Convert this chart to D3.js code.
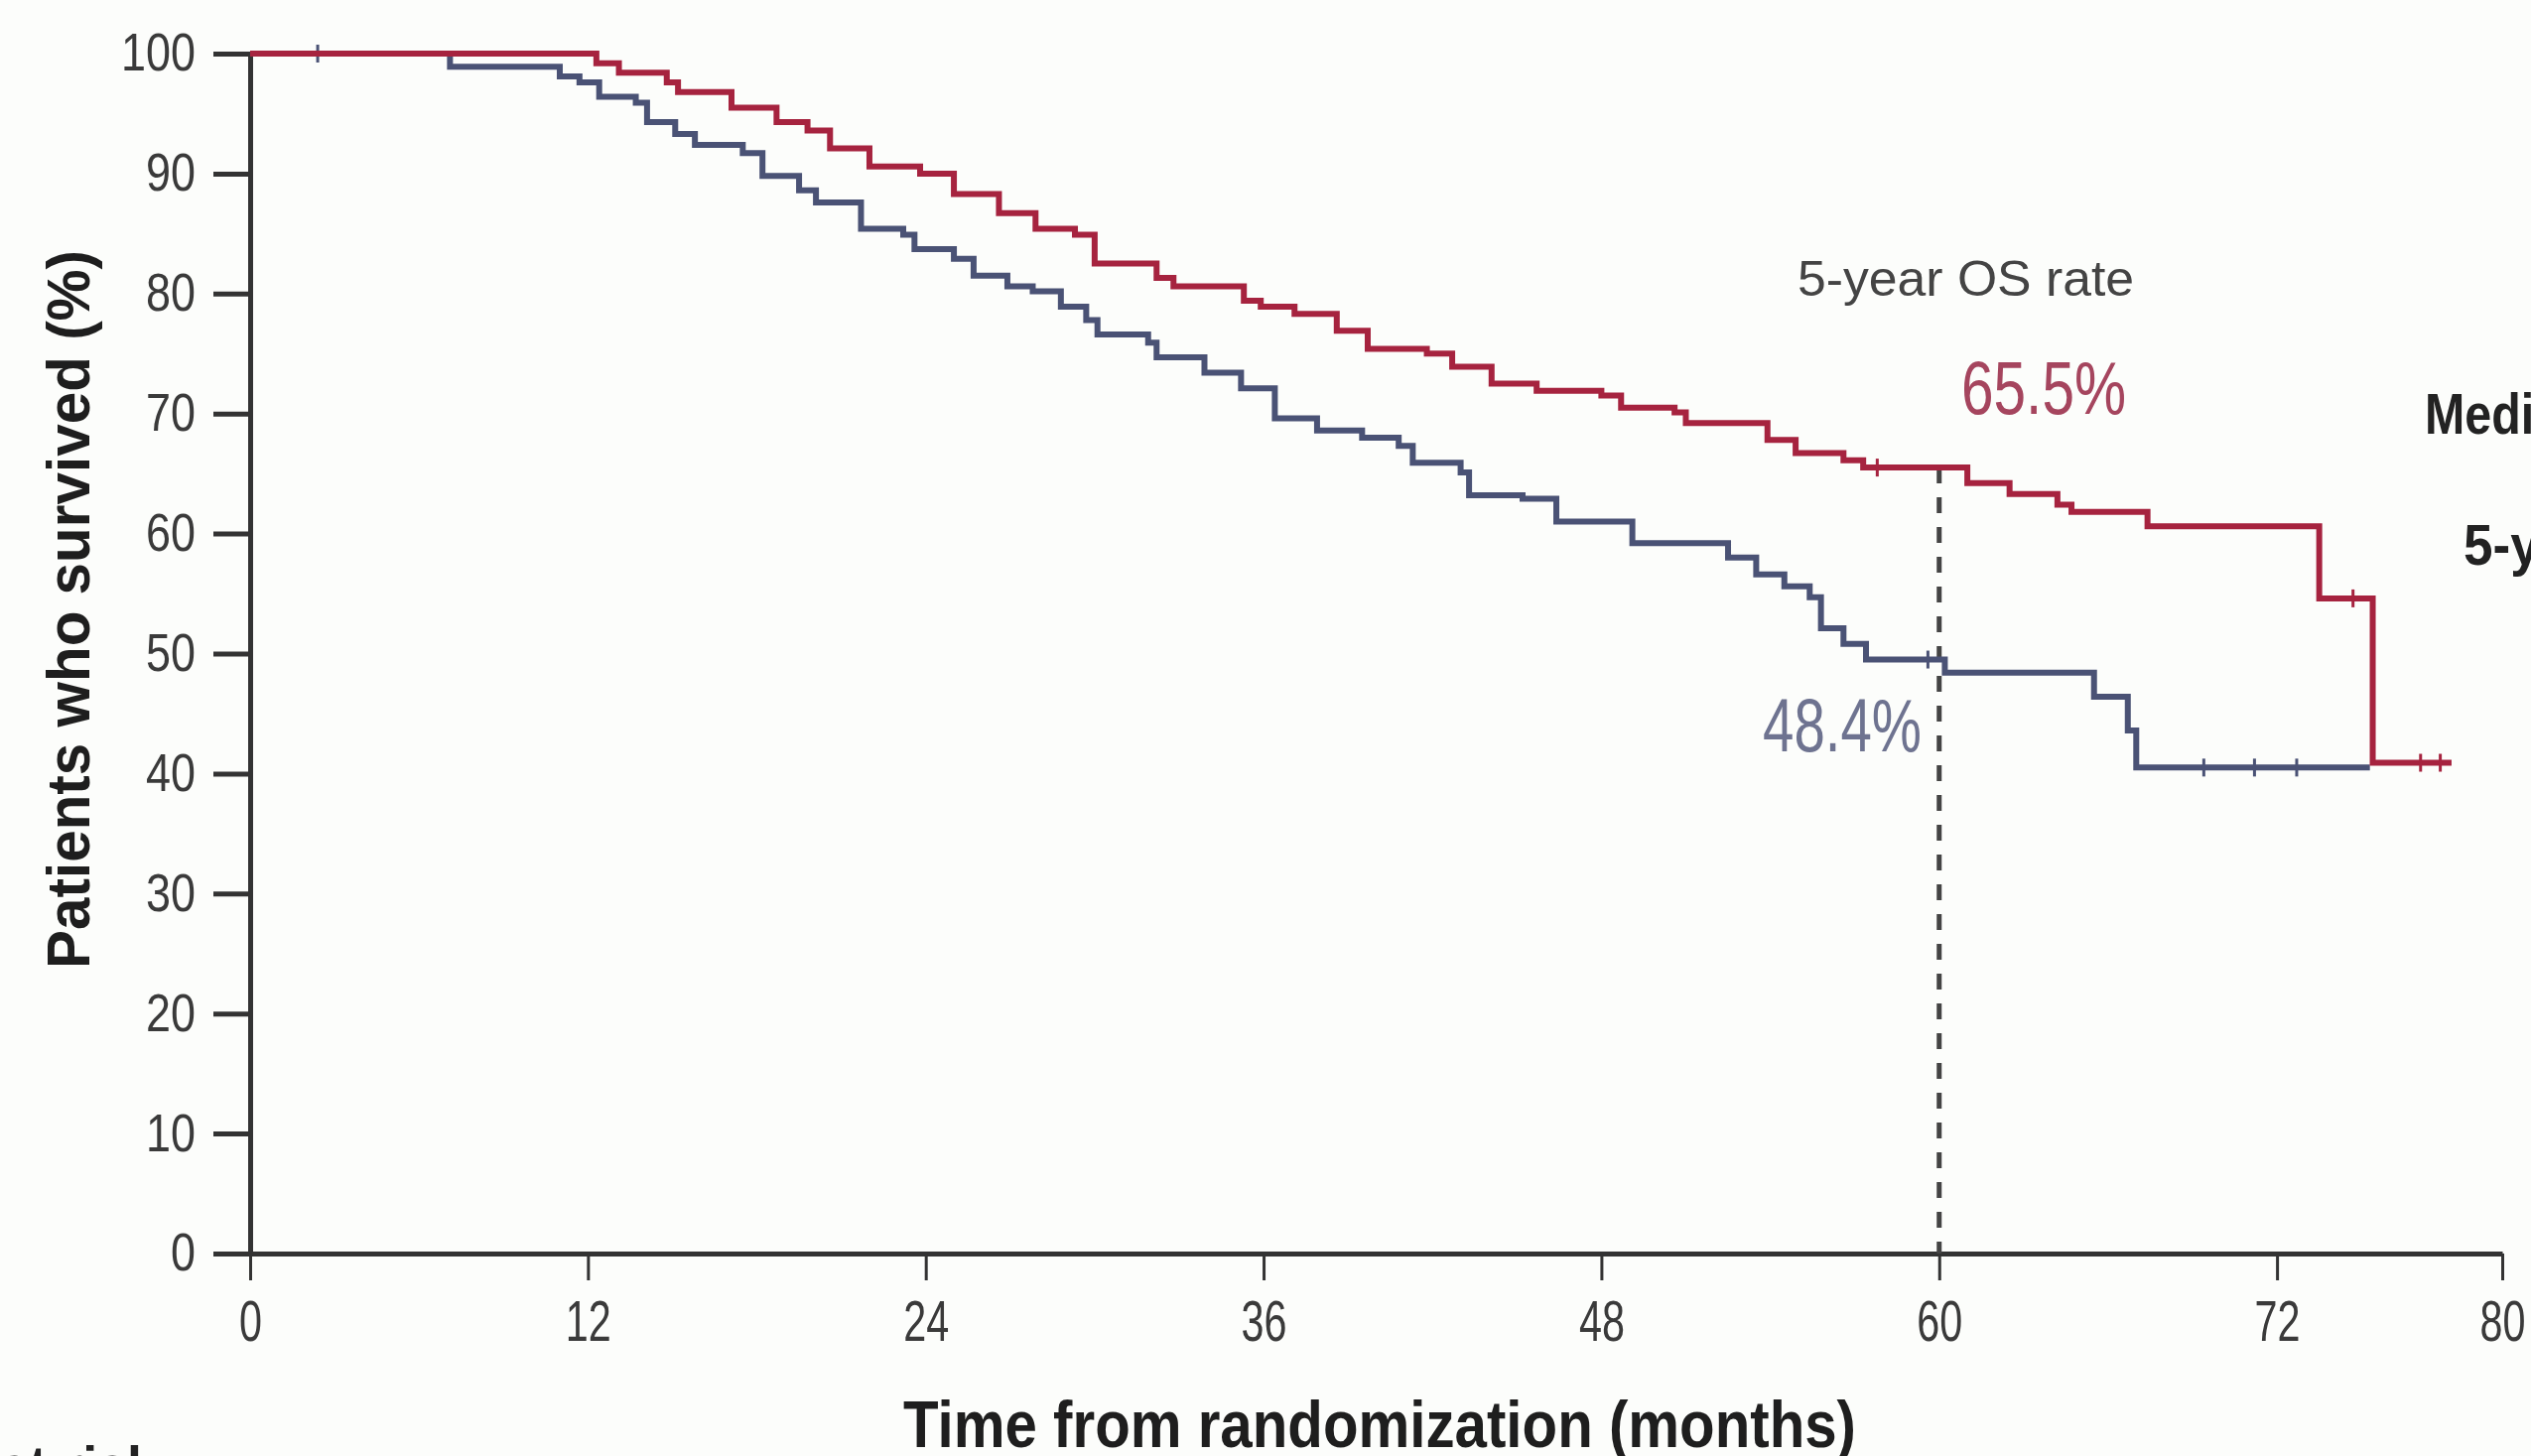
<!DOCTYPE html>
<html>
<head>
<meta charset="utf-8">
<script src="https://cdn.jsdelivr.net/npm/d3@7"></script>
<style>
  html, body { margin: 0; padding: 0; background: #fcfdfb; overflow: hidden; }
  svg { display: block; font-family: "Liberation Sans Narrow", "Arial Narrow", "Liberation Sans", Arial, sans-serif; }
</style>
</head>
<body>
<div id="chart"></div>
<script>
// Kaplan-Meier steps: month the step starts, % surviving from then on
const redTimes = [0, 12.3, 13.1, 14.8, 15.2, 17.1, 18.7, 19.8, 20.6, 22.0, 23.8, 25.0, 26.6, 27.9, 29.3, 30.0,
    32.2, 32.8, 35.3, 35.9, 37.1, 38.6, 39.7, 41.8, 42.7, 44.1, 45.7, 48.0, 48.7, 50.6, 51.0, 53.9, 54.9,
    56.6, 57.3, 61.0, 62.5, 64.2, 64.7, 67.4, 73.5, 75.4, 78.2];
const redValues = [100, 99.2, 98.4, 97.6, 96.8, 95.5, 94.3, 93.6, 92.1, 90.6, 90.0, 88.3, 86.7, 85.4, 84.9, 82.5,
    81.3, 80.6, 79.4, 78.9, 78.3, 76.9, 75.4, 75.0, 73.9, 72.5, 71.9, 71.5, 70.5, 70.1, 69.2, 67.8, 66.7,
    66.1, 65.5, 64.2, 63.3, 62.4, 61.8, 60.6, 54.6, 40.9, 40.9];

const blueTimes = [0, 7.1, 11.0, 11.7, 12.4, 13.7, 14.1, 15.1, 15.8, 17.5, 18.2, 19.5, 20.1, 21.7, 23.2, 23.6,
    25.0, 25.7, 26.9, 27.8, 28.8, 29.7, 30.1, 31.9, 32.2, 33.9, 35.2, 36.4, 37.9, 39.5, 40.8, 41.3, 43.0,
    43.3, 45.2, 46.4, 49.1, 52.5, 53.5, 54.5, 55.4, 55.8, 56.6, 57.4, 60.2, 65.5, 66.7, 67.0, 75.3];
const blueValues = [100, 98.9, 98.1, 97.6, 96.4, 95.9, 94.3, 93.3, 92.4, 91.7, 89.8, 88.6, 87.6, 85.4, 84.9, 83.7,
    82.9, 81.5, 80.6, 80.2, 78.9, 77.8, 76.6, 75.9, 74.7, 73.4, 72.1, 69.6, 68.6, 68.0, 67.3, 65.9, 65.1,
    63.2, 62.9, 61.0, 59.2, 58.0, 56.6, 55.6, 54.7, 52.1, 50.8, 49.5, 48.4, 46.4, 43.6, 40.5, 40.5];

// censored observations (tick marks)
const redCensor = [[57.8, 65.5], [74.7, 54.6], [77.1, 40.9], [77.8, 40.9]];
const blueCensor = [[2.4, 100], [59.6, 49.5], [69.4, 40.5], [71.2, 40.5], [72.7, 40.5]];

const xTicks = [0, 12, 24, 36, 48, 60, 72, 80];
const yTicks = [0, 10, 20, 30, 40, 50, 60, 70, 80, 90, 100];
const landmarkMonth = 60;
const redRateLabel = "65.5%";
const blueRateLabel = "48.4%";
const redRate = 65.5;

function chart() {
    const width = 2550;
    const height = 1467;

    const x = d3.scaleLinear().domain([0, 80]).range([252, 2521]);
    const y = d3.scaleLinear().domain([0, 100]).range([1263, 54]);

    const svg = d3.create("svg")
        .attr("width", width)
        .attr("height", height)
        .attr("viewBox", [0, 0, width, height]);

    svg.append("rect")
        .attr("width", width)
        .attr("height", height)
        .attr("fill", "#fcfdfb");

    // y axis
    const yAxis = svg.append("g")
        .attr("transform", `translate(${x(0)},0)`)
        .call(d3.axisLeft(y).tickValues(yTicks).tickSize(37).tickSizeOuter(0).tickPadding(18));
    yAxis.select(".domain").attr("stroke", "#333").attr("stroke-width", 5);
    yAxis.selectAll(".tick line").attr("stroke", "#333").attr("stroke-width", 5);
    // the reference uses a condensed face, so squeeze the digits
    yAxis.selectAll(".tick text")
        .attr("fill", "#3a3a3a")
        .attr("font-size", 53)
        .attr("textLength", d => String(d).length * 25)
        .attr("lengthAdjust", "spacingAndGlyphs");

    // x axis
    const xAxis = svg.append("g")
        .attr("transform", `translate(0,${y(0)})`)
        .call(d3.axisBottom(x).tickValues(xTicks).tickSize(27).tickSizeOuter(0).tickPadding(20));
    xAxis.select(".domain").attr("stroke", "#333").attr("stroke-width", 5);
    xAxis.selectAll(".tick line").attr("stroke", "#333").attr("stroke-width", 3);
    xAxis.selectAll(".tick text")
        .attr("fill", "#3a3a3a")
        .attr("font-size", 58)
        .attr("textLength", d => String(d).length * 23)
        .attr("lengthAdjust", "spacingAndGlyphs");

    // 5-year landmark line
    svg.append("line")
        .attr("x1", x(landmarkMonth)).attr("x2", x(landmarkMonth))
        .attr("y1", y(redRate)).attr("y2", y(0))
        .attr("stroke", "#444")
        .attr("stroke-width", 5)
        .attr("stroke-dasharray", "16 14");

    const line = d3.line()
        .x(d => x(d[0]))
        .y(d => y(d[1]))
        .curve(d3.curveStepAfter);

    const series = [
        { times: blueTimes, values: blueValues, censor: blueCensor, color: "#4a5275" },
        { times: redTimes, values: redValues, censor: redCensor, color: "#a6233f" }
    ];

    series.forEach(s => {
        const pts = s.times.map((t, i) => [t, s.values[i]]);
        svg.append("path")
            .datum(pts)
            .attr("fill", "none")
            .attr("stroke", s.color)
            .attr("stroke-width", 6)
            .attr("d", line);

        svg.append("g")
            .selectAll("line")
            .data(s.censor)
            .join("line")
            .attr("x1", d => x(d[0])).attr("x2", d => x(d[0]))
            .attr("y1", d => y(d[1]) - 9).attr("y2", d => y(d[1]) + 9)
            .attr("stroke", s.color)
            .attr("stroke-width", 3);
    });

    // annotations
    svg.append("text")
        .attr("x", 1811).attr("y", 298)
        .attr("font-size", 50)
        .attr("fill", "#444")
        .attr("textLength", 339)
        .attr("lengthAdjust", "spacingAndGlyphs")
        .text("5-year OS rate");

    svg.append("text")
        .attr("x", 1976).attr("y", 417)
        .attr("font-size", 76)
        .attr("fill", "#a5455e")
        .attr("textLength", 166)
        .attr("lengthAdjust", "spacingAndGlyphs")
        .text(redRateLabel);

    svg.append("text")
        .attr("x", 1776).attr("y", 757)
        .attr("font-size", 76)
        .attr("fill", "#6e7390")
        .attr("textLength", 160)
        .attr("lengthAdjust", "spacingAndGlyphs")
        .text(blueRateLabel);

    // legend text cut off at the right edge, as in the reference
    svg.append("text")
        .attr("x", 2443).attr("y", 437)
        .attr("font-size", 58)
        .attr("font-weight", "bold")
        .attr("fill", "#222")
        .attr("textLength", 250)
        .attr("lengthAdjust", "spacingAndGlyphs")
        .text("Median OS");

    svg.append("text")
        .attr("x", 2482).attr("y", 569)
        .attr("font-size", 58)
        .attr("font-weight", "bold")
        .attr("fill", "#222")
        .attr("textLength", 360)
        .attr("lengthAdjust", "spacingAndGlyphs")
        .text("5-year OS rate");

    // number at risk header cut off at the bottom
    svg.append("text")
        .attr("x", 158).attr("y", 1496)
        .attr("text-anchor", "end")
        .attr("font-size", 56)
        .attr("font-weight", "bold")
        .attr("fill", "#222")
        .attr("textLength", 260)
        .attr("lengthAdjust", "spacingAndGlyphs")
        .text("No. at risk");

    // axis titles
    svg.append("text")
        .attr("x", 1390).attr("y", 1458)
        .attr("text-anchor", "middle")
        .attr("font-size", 66)
        .attr("font-weight", "bold")
        .attr("fill", "#1e1e1e")
        .attr("textLength", 960)
        .attr("lengthAdjust", "spacingAndGlyphs")
        .text("Time from randomization (months)");

    svg.append("text")
        .attr("transform", "translate(90,614) rotate(-90)")
        .attr("text-anchor", "middle")
        .attr("font-size", 62)
        .attr("font-weight", "bold")
        .attr("fill", "#1e1e1e")
        .attr("textLength", 724)
        .attr("lengthAdjust", "spacingAndGlyphs")
        .text("Patients who survived (%)");

    return svg.node();
}

document.getElementById("chart").appendChild(chart());
</script>
</body>
</html>
